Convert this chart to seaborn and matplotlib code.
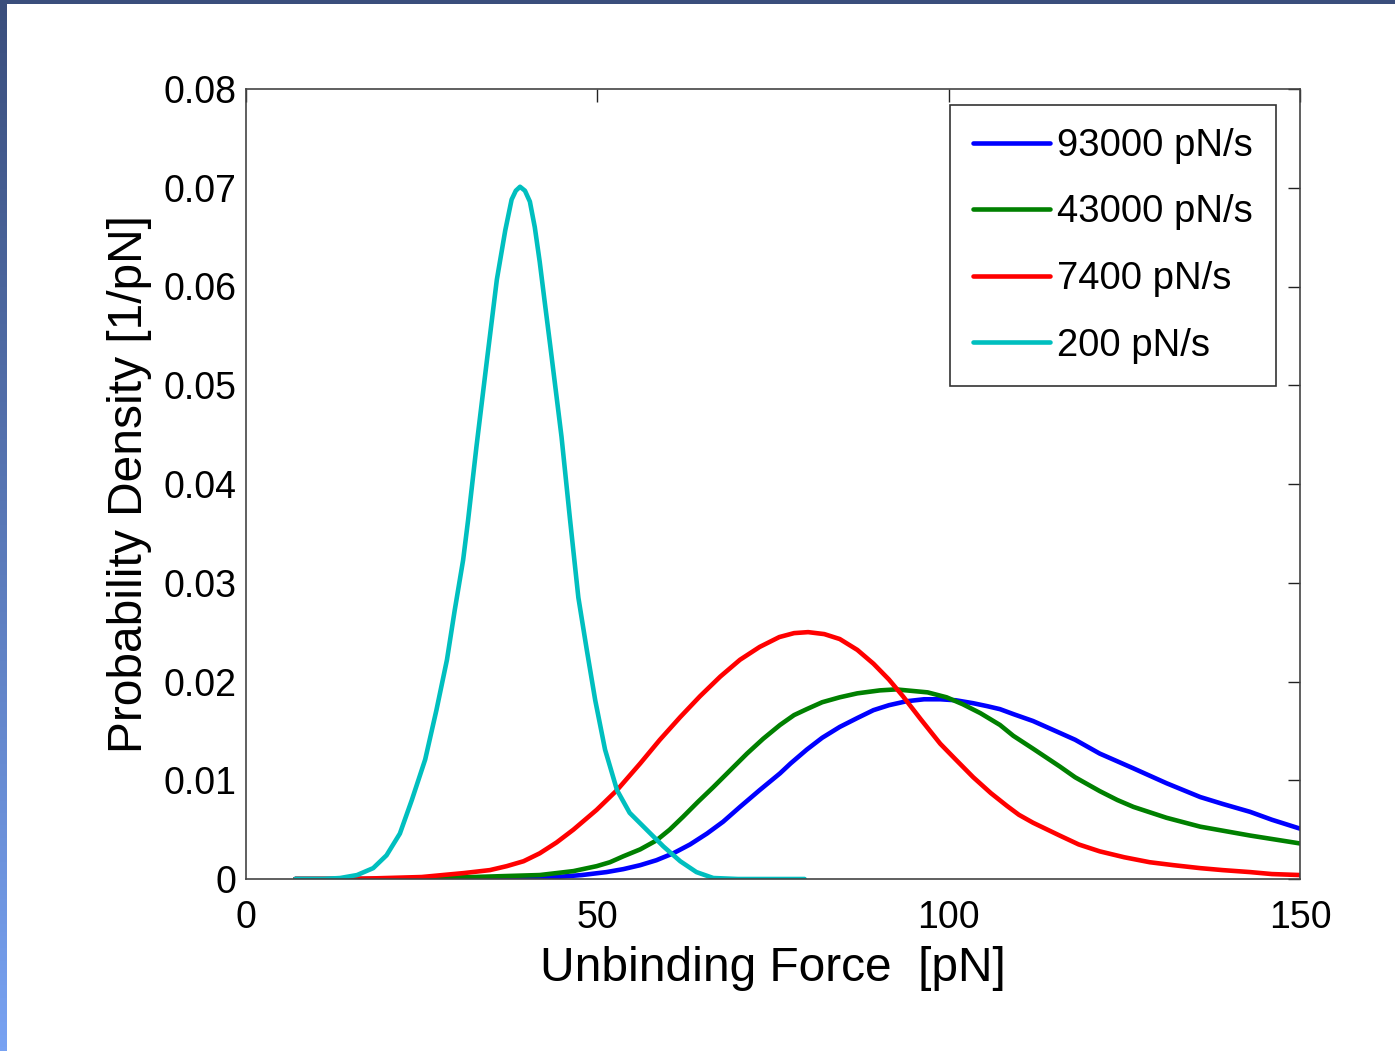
import numpy as np
import pandas as pd
import matplotlib
matplotlib.use("Agg")
import matplotlib.pyplot as plt
import seaborn as sns

# values (force in pN, density in 1/pN)
force_200 = [7, 11, 13.4, 15.8, 18.1, 20.0, 21.9, 23.6, 25.5, 27.1, 28.6, 29.7, 30.9, 31.6, 32.8,
             34.3, 35.7, 36.9, 37.8, 38.4, 39.0, 39.7, 40.4, 41.1, 41.8, 42.5, 43.3, 44.9, 46.1,
             47.3, 48.5, 49.7, 51.1, 52.8, 54.6, 57.0, 59.4, 61.8, 64.1, 66.5, 70, 79.5]
dens_200 = [0, 0, 0.0001, 0.0004, 0.0011, 0.0024, 0.0046, 0.0080, 0.0121, 0.0171, 0.0222, 0.0272,
            0.0323, 0.0363, 0.0438, 0.0526, 0.0607, 0.0657, 0.0688, 0.0697, 0.0701, 0.0697, 0.0686,
            0.0660, 0.0625, 0.0585, 0.0540, 0.0448, 0.0365, 0.0285, 0.0232, 0.0181, 0.0131, 0.0090,
            0.0067, 0.0050, 0.0033, 0.0018, 0.0007, 0.0001, 0, 0]

force_7400 = [7, 15, 20, 25, 28, 31, 34.7, 37.1, 39.5, 41.8, 44.2, 46.6, 49.9, 52.8, 56.1, 58.9,
              61.8, 64.6, 67.5, 70.3, 73.1, 75.9, 78.0, 80.0, 82.3, 84.5, 87.0, 89.3, 91.5, 93.5,
              96.0, 98.8, 101.0, 103.5, 106.0, 108.3, 110.0, 112.0, 115.8, 118.5, 121.5, 125.0,
              128.6, 132.0, 135.8, 139.0, 142.9, 146.0, 150]
dens_7400 = [0, 0, 0.0001, 0.0002, 0.0004, 0.0006, 0.0009, 0.0013, 0.0018, 0.0026, 0.0037, 0.0050,
             0.0070, 0.0090, 0.0117, 0.0141, 0.0164, 0.0185, 0.0205, 0.0222, 0.0235, 0.0245, 0.0249,
             0.0250, 0.0248, 0.0243, 0.0232, 0.0218, 0.0202, 0.0185, 0.0162, 0.0137, 0.0121, 0.0103,
             0.0087, 0.0074, 0.0065, 0.0057, 0.0044, 0.0035, 0.0028, 0.0022, 0.0017, 0.0014, 0.0011,
             0.0009, 0.0007, 0.0005, 0.0004]

force_43000 = [7, 20, 27, 32.3, 37, 41.8, 44.2, 46.6, 49.9, 51.8, 53.7, 56.1, 58.4, 60.3, 62.2,
               64.3, 66.5, 68.9, 71.3, 73.6, 76.0, 78.0, 79.8, 82.0, 84.5, 87.0, 90.2, 92.5, 94.0,
               97.0, 99.7, 102.0, 104.5, 107.3, 109.2, 112.0, 115.8, 118.0, 121.5, 124.0, 126.3,
               131.0, 135.8, 142.9, 150]
dens_43000 = [0, 0, 0.0001, 0.0002, 0.0003, 0.0004, 0.0006, 0.0008, 0.0013, 0.0017, 0.0023, 0.0030,
              0.0039, 0.0050, 0.0063, 0.0078, 0.0093, 0.0110, 0.0127, 0.0142, 0.0156, 0.0166, 0.0172,
              0.0179, 0.0184, 0.0188, 0.0191, 0.0192, 0.0191, 0.0189, 0.0184, 0.0177, 0.0168, 0.0156,
              0.0145, 0.0132, 0.0114, 0.0103, 0.0089, 0.0080, 0.0073, 0.0062, 0.0053, 0.0044, 0.0036]

force_93000 = [7, 25, 35, 40, 44.2, 47.8, 51.3, 53.7, 56.1, 58.4, 60.8, 63.2, 65.6, 67.9, 70.3,
               73.1, 76.0, 77.5, 79.8, 82.0, 84.5, 87.0, 89.3, 91.5, 94.0, 96.5, 98.8, 101.0, 103.5,
               105.5, 107.3, 109.2, 112.0, 115.8, 118.0, 121.5, 126.3, 131.0, 135.8, 139.0, 142.9,
               146.0, 150]
dens_93000 = [0, 0, 0.0001, 0.0001, 0.0002, 0.0004, 0.0007, 0.0010, 0.0014, 0.0019, 0.0026, 0.0035,
              0.0046, 0.0058, 0.0073, 0.0090, 0.0107, 0.0117, 0.0131, 0.0143, 0.0154, 0.0163, 0.0171,
              0.0176, 0.0180, 0.0182, 0.0182, 0.0181, 0.0178, 0.0175, 0.0172, 0.0167, 0.0160, 0.0148,
              0.0141, 0.0127, 0.0112, 0.0097, 0.0083, 0.0076, 0.0068, 0.0060, 0.0051]

rates = ["93000 pN/s", "43000 pN/s", "7400 pN/s", "200 pN/s"]
colors = ["#0000ff", "#008000", "#ff0000", "#00bfbf"]
xticks = [0, 50, 100, 150]
yticks = [0, 0.01, 0.02, 0.03, 0.04, 0.05, 0.06, 0.07, 0.08]
ytick_labels = ["0", "0.01", "0.02", "0.03", "0.04", "0.05", "0.06", "0.07", "0.08"]


def main():
    sns.set_theme(style="white")
    plt.rcParams["font.family"] = ["Liberation Sans", "DejaVu Sans"]
    plt.rcParams["text.color"] = "black"
    plt.rcParams["axes.labelcolor"] = "black"

    parts = []
    for name, f, d in zip(rates,
                          [force_93000, force_43000, force_7400, force_200],
                          [dens_93000, dens_43000, dens_7400, dens_200]):
        parts.append(pd.DataFrame({"force": f, "density": d, "rate": name}))
    df = pd.concat(parts, ignore_index=True)

    fig = plt.figure(figsize=(13.95, 10.51), dpi=100)
    fig.patch.set_facecolor("white")

    # blue slide border on the left and top
    strip = fig.add_axes([0, 0, 7 / 1395, 1])
    grad = np.linspace(0, 1, 256).reshape(-1, 1)
    strip.imshow(grad, aspect="auto",
                 cmap=matplotlib.colors.LinearSegmentedColormap.from_list("b", ["#3a4e7c", "#78a2f2"]))
    strip.axis("off")
    top = fig.add_axes([0, 1 - 4 / 1051, 1, 4 / 1051])
    top.axis("off")
    top.add_patch(plt.Rectangle((0, 0), 1, 1, color="#3a4e7c", transform=top.transAxes))

    ax = fig.add_axes([246 / 1395, 1 - 879 / 1051, (1300 - 246) / 1395, (879 - 89) / 1051])
    sns.lineplot(data=df, x="force", y="density", hue="rate", hue_order=rates,
                 palette=colors, linewidth=3.3, sort=False, ax=ax)

    ax.set_xlim(0, 150)
    ax.set_ylim(0, 0.08)
    ax.set_xticks(xticks)
    ax.set_xticklabels([str(t) for t in xticks])
    ax.set_yticks(yticks)
    ax.set_yticklabels(ytick_labels)
    ax.tick_params(direction="in", length=9, width=1, color="#222222",
                   top=True, right=True, labelsize=27, labelcolor="black")
    ax.tick_params(axis="x", pad=15)
    ax.tick_params(axis="y", pad=7)
    for sp in ax.spines.values():
        sp.set_color("#444444")
        sp.set_linewidth(1.2)

    ax.set_xlabel("Unbinding Force  [pN]", fontsize=34.5, labelpad=7)
    ax.set_ylabel("Probability Density [1/pN]", fontsize=34.5, labelpad=8)

    leg = ax.legend(loc="upper right", bbox_to_anchor=(1276 / 1395, 1 - 105 / 1051),
                    bbox_transform=fig.transFigure, borderaxespad=0, fontsize=27.5,
                    handlelength=2.0, handletextpad=0.2, labelspacing=0.8,
                    borderpad=0.6, fancybox=False, frameon=True, framealpha=1)
    leg.get_frame().set_edgecolor("#333333")
    leg.get_frame().set_linewidth(1.2)
    for line in leg.get_lines():
        line.set_linewidth(3.3)

    fig.savefig("out.png", dpi=100, facecolor="white")


if __name__ == "__main__":
    main()
